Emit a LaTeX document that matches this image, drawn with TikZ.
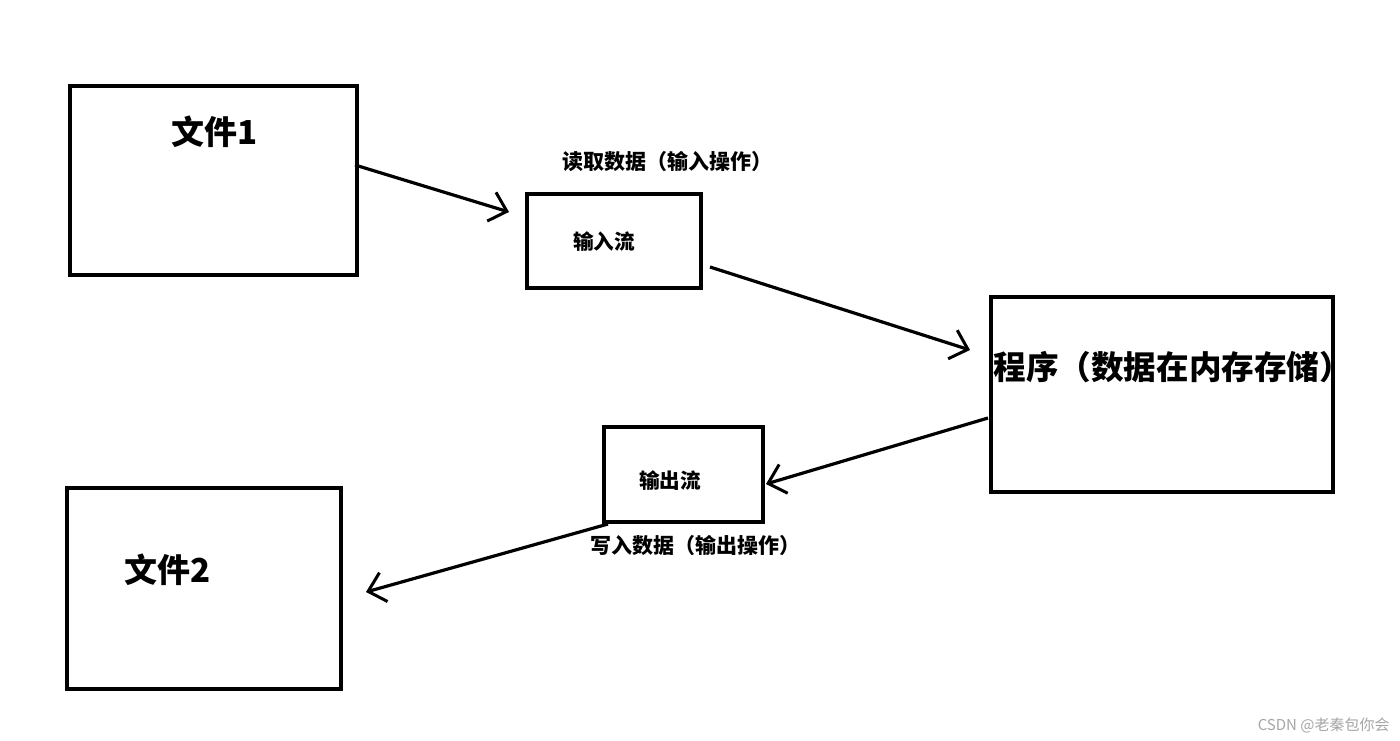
\documentclass[tikz,border=0pt]{standalone}
\usepackage{fontspec}
\setmainfont{Noto Sans CJK SC}
\newfontfamily\cjk{Noto Sans CJK SC}
\usetikzlibrary{arrows.meta}
\begin{document}
\begin{tikzpicture}[x=0.5pt,y=-0.5pt,
  box/.style={draw, line width=1.6pt, inner sep=0pt},
  txt/.style={inner sep=0pt, font=\cjk\bfseries},
  conn/.style={line width=1.6pt, -{Straight Barb[length=8pt,width=15pt,line width=1.5pt]}}]
\useasboundingbox (0,0) rectangle (1400,740);
\fill[white] (0,0) rectangle (1400,740);
% boxes
\node[box, minimum width=143.5pt, minimum height=94.5pt] (f1) at (213.5,180.5) {};
\node[box, minimum width=87pt, minimum height=47pt] (in) at (614,241) {};
\node[box, minimum width=171pt, minimum height=97.5pt] (prog) at (1162,394.5) {};
\node[box, minimum width=79.5pt, minimum height=47.5pt] (out) at (683.5,474.5) {};
\node[box, minimum width=137pt, minimum height=100.5pt] (f2) at (204,588.5) {};
% texts
\node[txt, font=\cjk\bfseries\fontsize{16.5}{18}\selectfont] (t1) at (215,132) {文件1};
\node[txt, font=\cjk\bfseries\fontsize{16.5}{18}\selectfont] (t2) at (168,570) {文件2};
\node[txt, font=\cjk\bfseries\fontsize{16.3}{18}\selectfont, anchor=west] (tp) at (993,367) {程序（数据在内存存储）};
\node[txt, font=\cjk\bfseries\fontsize{10.3}{12}\selectfont] (ti) at (604,242) {输入流};
\node[txt, font=\cjk\bfseries\fontsize{10.3}{12}\selectfont] (to) at (670,481) {输出流};
\node[txt, font=\cjk\bfseries\fontsize{10.5}{12}\selectfont] (l1) at (667,162) {读取数据（输入操作）};
\node[txt, font=\cjk\bfseries\fontsize{10.5}{12}\selectfont] (l2) at (695,545) {写入数据（输出操作）};
\node[inner sep=0pt, text=black!35, font=\cjk\fontsize{7.5}{8}\selectfont, anchor=east] (wm) at (1390,725) {CSDN @老秦包你会};
% arrow end points
\coordinate (a1s) at (355,165);
\coordinate (a1e) at (509,212);
\coordinate (a2s) at (710,267);
\coordinate (a2e) at (970,350);
\coordinate (a3s) at (988,418);
\coordinate (a3e) at (766,484);
\coordinate (a4s) at (608,524);
\coordinate (a4e) at (366,592);
\draw[conn] (a1s) -- (a1e);
\draw[conn] (a2s) -- (a2e);
\draw[conn] (a3s) -- (a3e);
\draw[conn] (a4s) -- (a4e);
\end{tikzpicture}
\end{document}
